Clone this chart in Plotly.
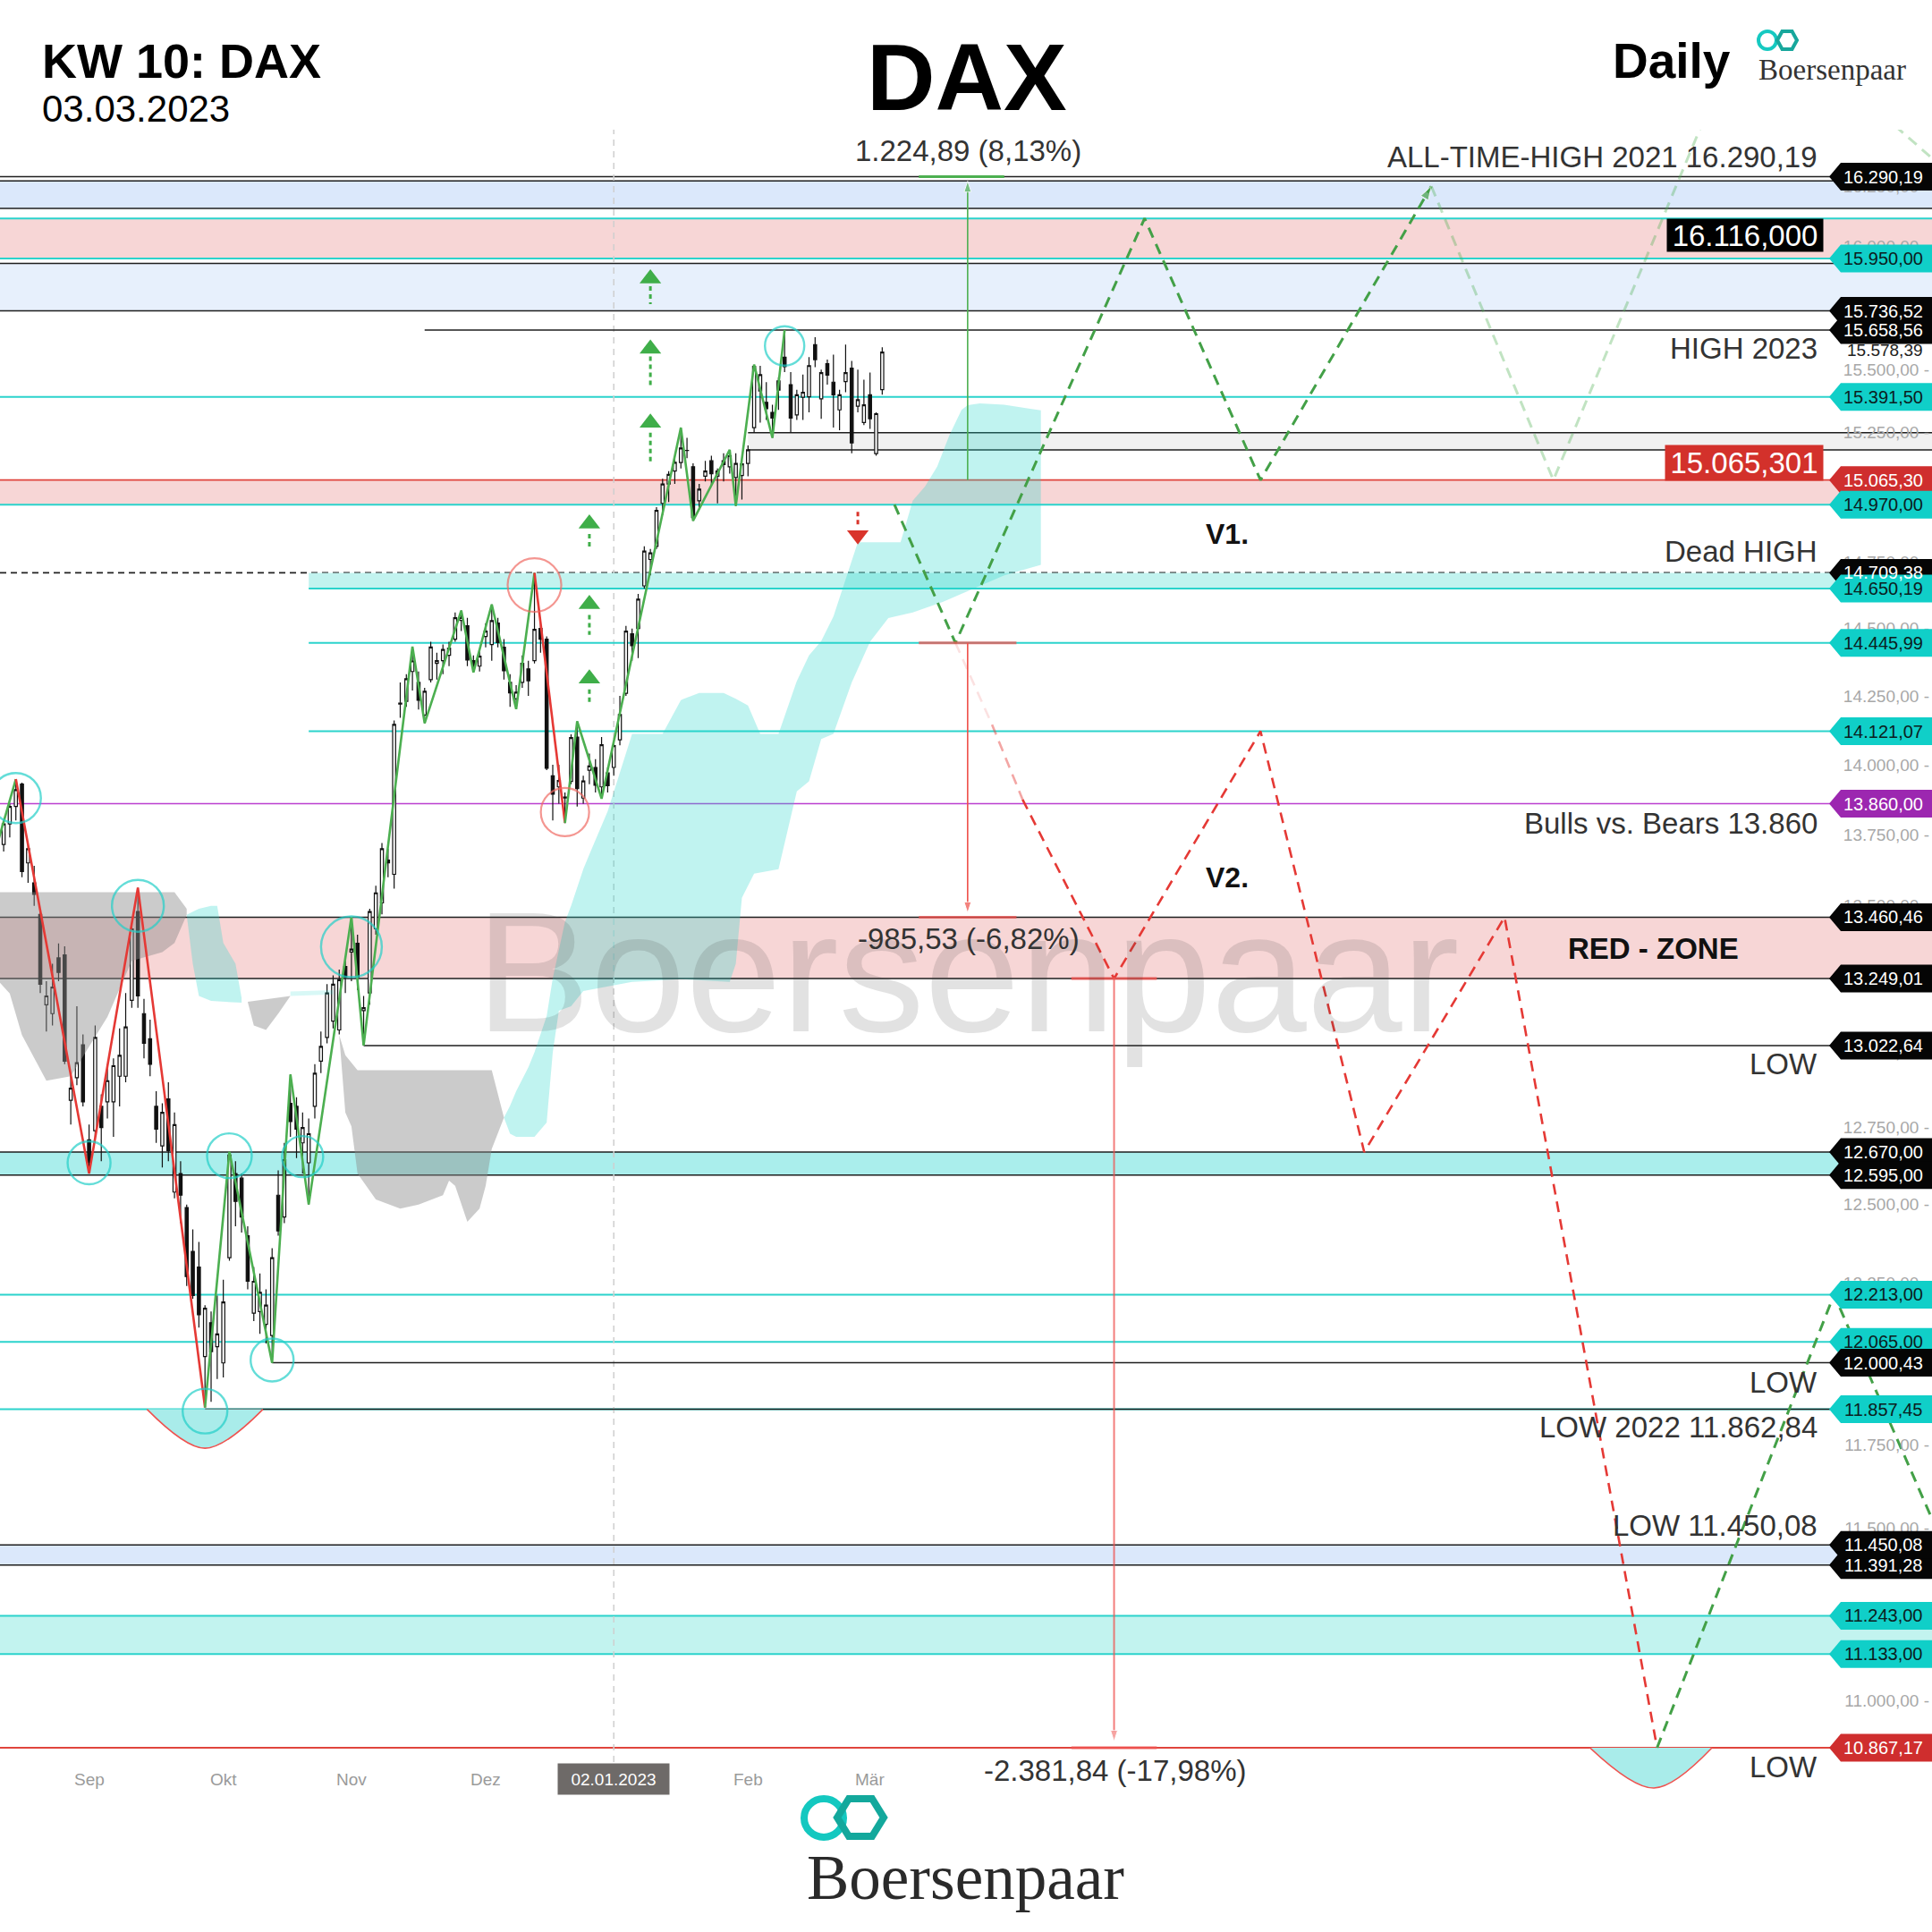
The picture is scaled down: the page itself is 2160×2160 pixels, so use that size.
import math
import plotly.graph_objects as go

# ---------------------------------------------------------------- candles
dates = """
2022-08-11 2022-08-12 2022-08-15 2022-08-16 2022-08-17 2022-08-18 2022-08-19 2022-08-22 2022-08-23 2022-08-24 2022-08-25 2022-08-26 2022-08-29 2022-08-30 2022-08-31
2022-09-01 2022-09-02 2022-09-05 2022-09-06 2022-09-07 2022-09-08 2022-09-09 2022-09-12 2022-09-13 2022-09-14 2022-09-15 2022-09-16 2022-09-19 2022-09-20 2022-09-21 2022-09-22 2022-09-23 2022-09-26 2022-09-27 2022-09-28 2022-09-29 2022-09-30
2022-10-03 2022-10-04 2022-10-05 2022-10-06 2022-10-07 2022-10-10 2022-10-11 2022-10-12 2022-10-13 2022-10-14 2022-10-17 2022-10-18 2022-10-19 2022-10-20 2022-10-21 2022-10-24 2022-10-25 2022-10-26 2022-10-27 2022-10-28 2022-10-31
2022-11-01 2022-11-02 2022-11-03 2022-11-04 2022-11-07 2022-11-08 2022-11-09 2022-11-10 2022-11-11 2022-11-14 2022-11-15 2022-11-16 2022-11-17 2022-11-18 2022-11-21 2022-11-22 2022-11-23 2022-11-24 2022-11-25 2022-11-28 2022-11-29 2022-11-30
2022-12-01 2022-12-02 2022-12-05 2022-12-06 2022-12-07 2022-12-08 2022-12-09 2022-12-12 2022-12-13 2022-12-14 2022-12-15 2022-12-16 2022-12-19 2022-12-20 2022-12-21 2022-12-22 2022-12-23 2022-12-27 2022-12-28 2022-12-29 2022-12-30
2023-01-02 2023-01-03 2023-01-04 2023-01-05 2023-01-06 2023-01-09 2023-01-10 2023-01-11 2023-01-12 2023-01-13 2023-01-16 2023-01-17 2023-01-18 2023-01-19 2023-01-20 2023-01-23 2023-01-24 2023-01-25 2023-01-26 2023-01-27 2023-01-30 2023-01-31
2023-02-01 2023-02-02 2023-02-03 2023-02-06 2023-02-07 2023-02-08 2023-02-09 2023-02-10 2023-02-13 2023-02-14 2023-02-15 2023-02-16 2023-02-17 2023-02-20 2023-02-21 2023-02-22 2023-02-23 2023-02-24 2023-02-27 2023-02-28
2023-03-01 2023-03-02 2023-03-03
""".split()

opens = [
    13700, 13715, 13788, 13850, 13930, 13650, 13580, 13470, 13160, 13130, 13320, 13330, 12840, 12915, 13025,
    12710, 12740, 12820, 12835, 12835, 12920, 12920, 13175, 13480, 13130, 13045, 12820, 12690, 12845, 12540, 12600, 12490, 12350, 12300, 12020, 12125, 12050,
    12000, 12330, 12600, 12585, 12400, 12155, 12160, 12120, 12085, 12530, 12460, 12830, 12820, 12700, 12635, 12820, 12970, 13050, 13105, 13075, 13290,
    13340, 13370, 13140, 13200, 13420, 13510, 13660, 13610, 14220, 14230, 14340, 14300, 14180, 14310, 14370, 14380, 14400, 14460, 14530, 14510, 14380, 14360,
    14470, 14440, 14520, 14430, 14300, 14240, 14300, 14350, 14380, 14500, 14460, 13960, 13920, 13880, 13940, 14100, 13880, 13980, 13990, 13920, 13970,
    13990, 14090, 14260, 14480, 14500, 14660, 14760, 14810, 14975, 15050, 15100, 15133, 15180, 15117, 14985, 15080, 15140, 15080, 15140, 15117, 15075, 15083,
    15130, 15270, 15415, 15370, 15330, 15455, 15550, 15440, 15320, 15390, 15392, 15600, 15384, 15524, 15450, 15340, 15452, 15506, 15355, 15290,
    15400, 15168, 15420,
]
highs = [
    13760, 13800, 13860, 13948, 13935, 13720, 13640, 13480, 13240, 13300, 13370, 13360, 12930, 13155, 13060,
    12760, 13090, 12860, 12960, 12980, 13080, 13200, 13430, 13563, 13180, 13110, 12870, 12830, 12900, 12800, 12640, 12500, 12420, 12380, 12180, 12160, 12210,
    12260, 12671, 12640, 12600, 12430, 12300, 12280, 12230, 12360, 12610, 12700, 12926, 12850, 12800, 12780, 12960, 13070, 13230, 13260, 13280, 13320,
    13461, 13400, 13190, 13490, 13570, 13720, 13700, 14160, 14300, 14330, 14432, 14340, 14280, 14450, 14410, 14440, 14450, 14560, 14567, 14540, 14400, 14420,
    14520, 14590, 14540, 14460, 14330, 14290, 14400, 14380, 14709, 14540, 14470, 14000, 14000, 13900, 14110, 14157, 13960, 14040, 14020, 14100, 13990,
    14080, 14250, 14510, 14500, 14630, 14810, 14800, 14960, 15070, 15100, 15150, 15270, 15230, 15130, 15050, 15140, 15160, 15110, 15170, 15183, 15170, 15140,
    15200, 15520, 15515, 15450, 15360, 15470, 15659, 15490, 15420, 15480, 15550, 15630, 15500, 15540, 15560, 15420, 15600, 15535, 15500, 15460,
    15488, 15330, 15590,
]
lows = [
    13650, 13690, 13740, 13800, 13600, 13580, 13500, 13200, 13070, 13090, 13240, 12960, 12760, 12890, 12820,
    12600, 12700, 12640, 12780, 12720, 12820, 12900, 13150, 13150, 12980, 12920, 12700, 12620, 12640, 12520, 12440, 12240, 12200, 12110, 11863, 11880, 11950,
    11955, 12320, 12430, 12410, 12230, 12130, 12090, 12060, 12000, 12400, 12440, 12720, 12650, 12600, 12500, 12780, 12930, 13030, 13080, 13060, 13200,
    13240, 13210, 13023, 13160, 13400, 13470, 13600, 13560, 14170, 14210, 14270, 14200, 14150, 14300, 14310, 14330, 14360, 14450, 14490, 14360, 14337, 14340,
    14430, 14380, 14430, 14310, 14210, 14202, 14280, 14250, 14370, 14410, 13980, 13800, 13860, 13791, 13930, 13850, 13860, 13930, 13900, 13878, 13900,
    13960, 14070, 14250, 14380, 14390, 14650, 14700, 14800, 14930, 14980, 15050, 15110, 15150, 14908, 14950, 15060, 15040, 14975, 15060, 15090, 14965, 14990,
    15080, 15250, 15290, 15300, 15230, 15340, 15490, 15250, 15300, 15300, 15330, 15510, 15305, 15440, 15270, 15260, 15410, 15170, 15330, 15280,
    15265, 15160, 15400,
]
closes = [
    13694, 13788, 13850, 13910, 13620, 13700, 13540, 13230, 13190, 13220, 13270, 12970, 12880, 12965, 12835,
    12635, 13050, 12750, 12905, 12955, 12990, 13085, 13420, 13190, 13030, 12960, 12745, 12800, 12675, 12760, 12530, 12270, 12210, 12150, 12170, 12035, 12090,
    12190, 12660, 12510, 12460, 12255, 12255, 12220, 12180, 12330, 12415, 12645, 12770, 12745, 12750, 12730, 12930, 13020, 13200, 13230, 13245, 13255,
    13350, 13255, 13150, 13480, 13545, 13700, 13650, 14146, 14224, 14313, 14379, 14234, 14267, 14431, 14380, 14422, 14427, 14540, 14541, 14383, 14355, 14397,
    14490, 14529, 14447, 14343, 14261, 14264, 14370, 14306, 14497, 14460, 13987, 13894, 13943, 13884, 14098, 13914, 13941, 13995, 13926, 14072, 13924,
    14069, 14182, 14490, 14436, 14610, 14792, 14785, 14948, 15050, 15087, 15134, 15190, 15181, 14920, 15030, 15100, 15090, 15100, 15125, 15160, 15130, 15128,
    15183, 15513, 15480, 15345, 15308, 15418, 15512, 15308, 15400, 15410, 15516, 15540, 15488, 15478, 15400, 15400, 15488, 15210, 15380, 15360,
    15305, 15325, 15570,
]
assert len(dates) == len(opens) == len(highs) == len(lows) == len(closes)

# ---------------------------------------------------------------- zigzag swings
zig_dates = ["2022-08-11", "2022-08-16", "2022-09-01", "2022-09-13", "2022-09-28", "2022-10-04", "2022-10-13",
             "2022-10-18", "2022-10-21", "2022-11-01", "2022-11-03", "2022-11-15", "2022-11-17", "2022-11-25",
             "2022-11-29", "2022-12-02", "2022-12-08", "2022-12-13", "2022-12-20", "2022-12-22", "2022-12-29",
             "2023-01-17", "2023-01-19", "2023-01-27", "2023-01-30", "2023-02-02", "2023-02-07", "2023-02-09"]
zig_prices = [13720, 13948, 12600, 13563, 11863, 12671, 12000, 12926, 12500, 13461, 13023, 14432, 14150, 14567,
              14337, 14590, 14202, 14709, 13791, 14157, 13878, 15270, 14908, 15183, 14965, 15520, 15230, 15659]
zig_runs = [(0, 1, "up"), (1, 4, "down"), (4, 17, "up"), (17, 18, "down"), (18, 27, "up")]

# pivot circles
cyan_circle_dates = ["2022-08-16", "2022-09-01", "2022-09-13", "2022-09-28", "2022-10-04", "2022-10-13",
                     "2022-10-20", "2022-11-01", "2023-02-09"]
cyan_circle_prices = [13880, 12635, 13500, 11852, 12658, 12009, 12655, 13358, 15595]
cyan_circle_sizes = [56, 48, 58, 50, 50, 48, 46, 68, 44]
red_circle_dates = ["2022-12-13", "2022-12-20"]
red_circle_prices = [14663, 13830]
red_circle_sizes = [60, 54]

# ---------------------------------------------------------------- ichimoku cloud
gray1_top_d = ["2022-08-11", "2022-09-21", "2022-09-23"]
gray1_top_v = [13547, 13547, 13490]
gray1_bot_d = ["2022-08-11", "2022-08-15", "2022-08-17", "2022-08-23", "2022-08-29", "2022-09-06",
               "2022-09-12", "2022-09-19", "2022-09-21", "2022-09-23"]
gray1_bot_v = [13244, 13198, 13058, 12905, 12920, 13119, 13310, 13340, 13371, 13469]

cyan1_top_d = ["2022-09-23", "2022-09-26", "2022-09-27", "2022-09-29", "2022-09-30", "2022-10-03",
               "2022-10-05", "2022-10-06"]
cyan1_top_v = [13469, 13480, 13490, 13500, 13500, 13371, 13300, 13183]
cyan1_bot_d = ["2022-09-23", "2022-09-26", "2022-09-27", "2022-09-29", "2022-10-06"]
cyan1_bot_v = [13469, 13300, 13190, 13173, 13167]

gray2_top_d = ["2022-10-07", "2022-10-18"]
gray2_top_v = [13170, 13190]
gray2_bot_d = ["2022-10-07", "2022-10-10", "2022-10-12", "2022-10-14", "2022-10-18"]
gray2_bot_v = [13170, 13090, 13075, 13130, 13190]

cyan2_top_d = ["2022-10-18", "2022-10-27"]
cyan2_top_v = [13205, 13210]
cyan2_bot_d = ["2022-10-18", "2022-10-27"]
cyan2_bot_v = [13190, 13195]

gray3_top_d = ["2022-10-28", "2022-10-31", "2022-11-02", "2022-12-02", "2022-12-06"]
gray3_top_v = [13058, 12990, 12940, 12940, 12783]
gray3_bot_d = ["2022-10-28", "2022-10-31", "2022-11-01", "2022-11-02", "2022-11-07", "2022-11-11",
               "2022-11-16", "2022-11-22", "2022-11-23", "2022-11-24", "2022-11-28", "2022-11-30",
               "2022-12-01", "2022-12-02", "2022-12-06"]
gray3_bot_v = [13058, 12800, 12754, 12600, 12516, 12487, 12500, 12530, 12577, 12560, 12444, 12487,
               12560, 12680, 12783]

cyan3_top_d = ["2022-12-06", "2022-12-07", "2022-12-08", "2022-12-12", "2022-12-13", "2022-12-15",
               "2022-12-16", "2022-12-20", "2022-12-21", "2022-12-23", "2022-12-27", "2022-12-30",
               "2023-01-05", "2023-01-12", "2023-01-17", "2023-01-20", "2023-01-26", "2023-01-30",
               "2023-02-01", "2023-02-03", "2023-02-08", "2023-02-13", "2023-02-15", "2023-02-17",
               "2023-02-21", "2023-02-23", "2023-02-27", "2023-03-01", "2023-03-06", "2023-03-08",
               "2023-03-10", "2023-03-14", "2023-03-16", "2023-03-20", "2023-03-22", "2023-03-23",
               "2023-03-27", "2023-03-31", "2023-04-06", "2023-04-10"]
cyan3_top_v = [12783, 12822, 12870, 12950, 13000, 13122, 13250, 13444, 13500, 13628, 13680, 13833,
               14111, 14111, 14235, 14261, 14261, 14240, 14215, 14111, 14111, 14305, 14400, 14453,
               14545, 14683, 14826, 14826, 14826, 14826, 14985, 15040, 15117, 15240, 15340, 15359,
               15366, 15360, 15345, 15338]
cyan3_bot_d = ["2022-12-06", "2022-12-07", "2022-12-08", "2022-12-13", "2022-12-15", "2022-12-16",
               "2022-12-19", "2022-12-21", "2022-12-23", "2022-12-30", "2023-01-05", "2023-01-17",
               "2023-01-27", "2023-01-30", "2023-01-31", "2023-02-02", "2023-02-08", "2023-02-13",
               "2023-02-15", "2023-02-17", "2023-02-21", "2023-02-24", "2023-03-01", "2023-03-06",
               "2023-03-10", "2023-03-17", "2023-03-27", "2023-03-31", "2023-04-10"]
cyan3_bot_v = [12783, 12730, 12720, 12720, 12767, 13000, 13140, 13155, 13207, 13223, 13238, 13247,
               13238, 13300, 13528, 13612, 13628, 13904, 13940, 14093, 14111, 14300, 14450, 14539,
               14560, 14600, 14660, 14700, 14740]

# ---------------------------------------------------------------- levels
line_black = [16290.19, 16272, 16157, 15930, 15736.52, 13460.46, 13249.01, 12670, 12595, 11450.08, 11391.28]
line_black_from = {15658.56: "2022-11-17", 15250: "2023-02-01", 15183: "2023-02-01",
                   13022.64: "2022-11-03", 12000.43: "2022-10-13", 11857.45: "2022-09-28"}
line_cyan = [16116, 15950, 15391.50, 14970, 12213, 12065, 11857.45, 11243, 11133]
line_cyan_from = {14650.19: "2022-10-21", 14445.99: "2022-10-21", 14121.07: "2022-10-21"}
line_red = [15065.30, 10867.17]
line_purple = [13860]
line_dashed = [14709.38]

bands = [  # (top, bottom, kind, start)
    (16272, 16157, "blue", None),
    (16116, 15950, "pink", None),
    (15930, 15736.52, "lightblue", None),
    (15250, 15183, "gray", "2023-02-01"),
    (15065.30, 14970, "pink", None),
    (14709.38, 14650.19, "lightcyan", "2022-10-21"),
    (13460.46, 13249.01, "pink", None),
    (12670, 12595, "cyan", None),
    (11450.08, 11391.28, "blue", None),
    (11243, 11133, "lightcyan", None),
]

tag_values = [16290.19, 15950.00, 15736.52, 15658.56, 15391.50, 15065.30, 14970.00, 14709.38, 14650.19,
              14445.99, 14121.07, 13860.00, 13460.46, 13249.01, 13022.64, 12670.00, 12595.00, 12213.00,
              12065.00, 12000.43, 11857.45, 11391.28, 11450.08, 11243.00, 11133.00, 10867.17]
tag_labels = ["16.290,19", "15.950,00", "15.736,52", "15.658,56", "15.391,50", "15.065,30", "14.970,00",
              "14.709,38", "14.650,19", "14.445,99", "14.121,07", "13.860,00", "13.460,46", "13.249,01",
              "13.022,64", "12.670,00", "12.595,00", "12.213,00", "12.065,00", "12.000,43", "11.857,45",
              "11.391,28", "11.450,08", "11.243,00", "11.133,00", "10.867,17"]
tag_kinds = ["k", "c", "k", "k", "c", "r", "c", "k", "c", "c", "c", "p", "k", "k", "k", "k", "k", "c",
             "c", "k", "c", "k", "k", "c", "c", "r"]

tick_values = [10750, 11000, 11250, 11500, 11750, 12000, 12250, 12500, 12750, 13000, 13250, 13500,
               13750, 14000, 14250, 14500, 14750, 15000, 15250, 15500, 15750, 16000, 16250]
tick_labels = ["10.750,00", "11.000,00", "11.250,00", "11.500,00", "11.750,00", "12.000,00", "12.250,00",
               "12.500,00", "12.750,00", "13.000,00", "13.250,00", "13.500,00", "13.750,00", "14.000,00",
               "14.250,00", "14.500,00", "14.750,00", "15.000,00", "15.250,00", "15.500,00", "15.750,00",
               "16.000,00", "16.250,00"]

month_dates = ["2022-09-01", "2022-10-03", "2022-11-01", "2022-12-01", "2023-01-02", "2023-02-01", "2023-03-01"]
month_labels = ["Sep", "Okt", "Nov", "Dez", "02.01.2023", "Feb", "Mär"]

# ---------------------------------------------------------------- projections
v1_dates = ["2023-03-07", "2023-03-21", "2023-05-03", "2023-05-30", "2023-07-07"]
v1_prices = [14970, 14446, 16116, 15065.3, 16250]
v1_fade_dates = ["2023-07-07", "2023-08-04", "2023-09-07"]
v1_fade_prices = [16250, 15065.3, 16490]
top_frag_dates = ["2023-10-23", "2023-11-08"]
top_frag_prices = [16505, 16190]
v2_fade_dates = ["2023-03-21", "2023-03-29", "2023-04-05"]
v2_fade_prices = [14446, 14145, 13875]
v2_dates = ["2023-04-05", "2023-04-26", "2023-05-30", "2023-06-22", "2023-07-25", "2023-08-29"]
v2_prices = [13875, 13249.01, 14121.07, 12670, 13460.46, 10867.17]
g2_dates = ["2023-08-29", "2023-10-09", "2023-10-31"]
g2_prices = [10867.17, 12213, 11530]

# measurement tools
meas_up = dict(date="2023-03-23", y0=15065.30, y1=16272, seg=("2023-03-13", "2023-03-31"), level=16290.19)
meas_dn1 = dict(date="2023-03-23", y0=14445.99, y1=13475, seg=("2023-03-13", "2023-04-04"), levels=(14445.99, 13460.46))
meas_dn2 = dict(date="2023-04-26", y0=13249.01, y1=10885, seg=("2023-04-17", "2023-05-05"), levels=(13249.01, 10867.17))

# signal arrows
up_arrow_cols = {"2023-01-10": [(15868, 15837, 15764), (15583, 15553, 15431), (15289, 15250, 15124)],
                 "2022-12-27": [(14897, 14857, 14802), (14591, 14551, 14476), (14314, 14274, 14215)]}
down_arrow = ("2023-02-27", 14853, 14942, 14888)

# bowls
bowl_left = (["2022-09-14 12:00", "2022-09-28", "2022-10-11 12:00"], [11857.45, 11739, 11857.45])
bowl_right = (["2023-08-14", "2023-08-28 12:00", "2023-09-11"], [10867.17, 10755, 10867.17])

# ---------------------------------------------------------------- styling
FONT = "Liberation Sans, Arial, sans-serif"
SERIF = "Liberation Serif, Times New Roman, serif"
GREEN = "#43a047"
RED = "#e53935"
CYAN = "#2bd3cc"
TOP_PX, BOT_PX = 145, 2010


def yp(px):
    return (BOT_PX - px) / (BOT_PX - TOP_PX)


def xp(px):
    return px / 2160.0


fig = go.Figure()


def add_cloud(td, tv, bd, bv, color):
    fig.add_trace(go.Scatter(x=td + bd[::-1], y=tv + bv[::-1], mode="lines", fill="toself",
                             fillcolor=color, line=dict(width=0), hoverinfo="skip"))


CLOUD_CYAN = "rgba(38,214,205,0.29)"
CLOUD_GRAY = "rgba(140,140,140,0.45)"
add_cloud(gray1_top_d, gray1_top_v, gray1_bot_d, gray1_bot_v, CLOUD_GRAY)
add_cloud(cyan1_top_d, cyan1_top_v, cyan1_bot_d, cyan1_bot_v, CLOUD_CYAN)
add_cloud(gray2_top_d, gray2_top_v, gray2_bot_d, gray2_bot_v, CLOUD_GRAY)
add_cloud(cyan2_top_d, cyan2_top_v, cyan2_bot_d, cyan2_bot_v, "rgba(38,214,205,0.18)")
add_cloud(gray3_top_d, gray3_top_v, gray3_bot_d, gray3_bot_v, CLOUD_GRAY)
add_cloud(cyan3_top_d, cyan3_top_v, cyan3_bot_d, cyan3_bot_v, CLOUD_CYAN)

# bowls
for bx, by in (bowl_left, bowl_right):
    fig.add_trace(go.Scatter(x=bx, y=by, mode="lines", line=dict(color="#ef5350", width=1.6, shape="spline"),
                             fill="toself", fillcolor="#a9ecea", hoverinfo="skip"))

# candles
fig.add_trace(go.Candlestick(
    x=dates, open=opens, high=highs, low=lows, close=closes,
    increasing=dict(line=dict(color="#111111", width=1.2), fillcolor="white"),
    decreasing=dict(line=dict(color="#111111", width=1.2), fillcolor="#111111"),
    whiskerwidth=0, hoverinfo="skip"))

# zigzag
for a, b, kind in zig_runs:
    fig.add_trace(go.Scatter(x=zig_dates[a:b + 1], y=zig_prices[a:b + 1], mode="lines",
                             line=dict(color="#4caf50" if kind == "up" else "#e53935", width=2.6),
                             hoverinfo="skip"))

# circles
fig.add_trace(go.Scatter(x=cyan_circle_dates, y=cyan_circle_prices, mode="markers",
                         marker=dict(symbol="circle-open", size=cyan_circle_sizes, color="#22cec8",
                                     line=dict(width=2.4)), hoverinfo="skip"))
fig.add_trace(go.Scatter(x=red_circle_dates, y=red_circle_prices, mode="markers",
                         marker=dict(symbol="circle-open", size=red_circle_sizes, color="#ef6a62",
                                     line=dict(width=2.2)), hoverinfo="skip"))

# signal arrows
for d, items in up_arrow_cols.items():
    sx, sy, hx, hy = [], [], [], []
    for head, s_top, s_bot in items:
        sx += [d, d, None]
        sy += [s_top, s_bot, None]
        hx.append(d)
        hy.append(head)
    fig.add_trace(go.Scatter(x=sx, y=sy, mode="lines", line=dict(color="#3fae49", width=3, dash="5px,4px"),
                             hoverinfo="skip"))
    fig.add_trace(go.Scatter(x=hx, y=hy, mode="markers",
                             marker=dict(symbol="triangle-up", size=21, color="#3fae49"), hoverinfo="skip"))
d, head, s_top, s_bot = down_arrow
fig.add_trace(go.Scatter(x=[d, d], y=[s_top, s_bot], mode="lines", line=dict(color="#d9342b", width=3, dash="5px,4px"),
                         hoverinfo="skip"))
fig.add_trace(go.Scatter(x=[d], y=[head], mode="markers",
                         marker=dict(symbol="triangle-down", size=21, color="#d9342b"), hoverinfo="skip"))


def dashed(xs, ys, color, width=3, arrow=False):
    mk = None
    mode = "lines"
    if arrow:
        mode = "lines+markers"
        mk = dict(symbol="arrow", angleref="previous", size=[0] * (len(xs) - 1) + [16], color=color)
    fig.add_trace(go.Scatter(x=xs, y=ys, mode=mode, marker=mk,
                             line=dict(color=color, width=width, dash="12px,8px"), hoverinfo="skip"))


dashed(v1_dates, v1_prices, GREEN, arrow=True)
dashed(v1_fade_dates, v1_fade_prices, "rgba(76,175,80,0.35)")
dashed(top_frag_dates, top_frag_prices, "rgba(76,175,80,0.35)")
dashed(v2_fade_dates[:2], v2_fade_prices[:2], "rgba(229,57,53,0.15)", width=2.6)
dashed(v2_fade_dates[1:], v2_fade_prices[1:], "rgba(229,57,53,0.45)", width=2.6)
dashed(v2_dates, v2_prices, RED, width=2.6)
dashed(g2_dates, g2_prices, GREEN)


# measurement tools
def meas(date, y0, y1, color, width=1.6):
    fig.add_trace(go.Scatter(x=[date, date], y=[y0, y1], mode="lines+markers",
                             line=dict(color=color, width=width),
                             marker=dict(symbol="arrow", angleref="previous", size=[0, 13], color=color),
                             hoverinfo="skip"))


meas(meas_up["date"], meas_up["y0"], meas_up["y1"], "#4caf50")
fig.add_trace(go.Scatter(x=list(meas_up["seg"]), y=[meas_up["level"]] * 2, mode="lines",
                         line=dict(color="#4caf50", width=3), hoverinfo="skip"))
meas(meas_dn1["date"], meas_dn1["y0"], meas_dn1["y1"], "#ef4f48")
for lv in meas_dn1["levels"]:
    fig.add_trace(go.Scatter(x=list(meas_dn1["seg"]), y=[lv, lv], mode="lines",
                             line=dict(color="rgba(239,83,80,0.75)", width=3), hoverinfo="skip"))
meas(meas_dn2["date"], meas_dn2["y0"], meas_dn2["y1"], "rgba(239,83,80,0.75)", width=2)
for lv in meas_dn2["levels"]:
    fig.add_trace(go.Scatter(x=list(meas_dn2["seg"]), y=[lv, lv], mode="lines",
                             line=dict(color="rgba(239,83,80,0.85)", width=3), hoverinfo="skip"))

# ---------------------------------------------------------------- shapes
shapes = []
band_colors = {"blue": "#dbe8fb", "lightblue": "#e7f0fc", "pink": "#f7d6d6", "gray": "#f1f1f1",
               "lightcyan": "#c2f3ef", "cyan": "#aaeeec"}
for top, bot, kind, start in bands:
    if start is None:
        shapes.append(dict(type="rect", xref="paper", x0=0, x1=1, yref="y", y0=bot, y1=top,
                           fillcolor=band_colors[kind], line=dict(width=0), layer="below"))
    else:
        shapes.append(dict(type="rect", xref="x", x0=start, x1="2024-06-01", yref="y", y0=bot, y1=top,
                           fillcolor=band_colors[kind], line=dict(width=0), layer="below"))


def hline(v, color, width, start=None, dash=None):
    ln = dict(color=color, width=width)
    if dash:
        ln["dash"] = dash
    if start is None:
        shapes.append(dict(type="line", xref="paper", x0=0, x1=1, yref="y", y0=v, y1=v, line=ln, layer="below"))
    else:
        shapes.append(dict(type="line", xref="x", x0=start, x1="2024-06-01", yref="y", y0=v, y1=v, line=ln,
                           layer="below"))


for v in line_black:
    hline(v, "#1e1e1e", 1.5)
for v, s in line_black_from.items():
    hline(v, "#1e1e1e", 1.5, s)
for v in line_cyan:
    hline(v, CYAN, 2)
for v, s in line_cyan_from.items():
    hline(v, CYAN, 2, s)
for v in line_red:
    hline(v, "#e0453d", 1.8)
for v in line_purple:
    hline(v, "#bb3fd0", 1.6)
for v in line_dashed:
    hline(v, "#222222", 1.6, dash="7px,5px")

# Jan 2 vertical dashed
shapes.append(dict(type="line", xref="x", x0="2023-01-02", x1="2023-01-02", yref="paper", y0=yp(1970), y1=1,
                   line=dict(color="#cfcfcf", width=1.5, dash="7px,6px"), layer="below"))

# price tags
tag_style = {"k": ("#050505", "white"), "c": ("#10cfc8", "#0b2020"), "r": ("#cf2e2e", "white"),
             "p": ("#9c27b0", "white")}
tag_path = "M-115,0 L-102,15.5 L0,15.5 L0,-15.5 L-102,-15.5 Z"
annotations = []
for v, lab, k in zip(tag_values, tag_labels, tag_kinds):
    bg, fg = tag_style[k]
    shapes.append(dict(type="path", xref="paper", yref="y", xsizemode="pixel", ysizemode="pixel",
                       xanchor=1, yanchor=v, path=tag_path, fillcolor=bg, line=dict(width=0), layer="above"))
    annotations.append(dict(x=1, xref="paper", xanchor="right", xshift=-8, y=math.log10(v), yref="y",
                            yanchor="middle", text=lab, showarrow=False,
                            font=dict(family=FONT, size=20, color=fg)))

# logos
def hexagon(cx, cy, hw, hh):
    pts = [(cx - hw, cy), (cx - hw / 2, cy - hh), (cx + hw / 2, cy - hh), (cx + hw, cy),
           (cx + hw / 2, cy + hh), (cx - hw / 2, cy + hh)]
    return "M" + " L".join(f"{xp(x):.5f},{yp(y):.5f}" for x, y in pts) + " Z"


shapes.append(dict(type="circle", xref="paper", yref="paper", x0=xp(1966), x1=xp(1986), y0=yp(55), y1=yp(35),
                   line=dict(color="#16c9c1", width=4)))
shapes.append(dict(type="path", xref="paper", yref="paper", path=hexagon(1998, 45, 11, 10),
                   line=dict(color="#17a79c", width=4)))
shapes.append(dict(type="circle", xref="paper", yref="paper", x0=xp(899), x1=xp(943), y0=yp(2054), y1=yp(2011),
                   line=dict(color="#14c8c0", width=8)))
shapes.append(dict(type="path", xref="paper", yref="paper", path=hexagon(962, 2032, 26, 21),
                   line=dict(color="#13a89c", width=8)))

# ---------------------------------------------------------------- texts
def ptext(x, y, text, size, color="#333333", anchor="right", bold=False, family=FONT, **kw):
    t = f"<b>{text}</b>" if bold else text
    d = dict(x=xp(x), y=yp(y), xref="paper", yref="paper", xanchor=anchor, yanchor="middle", text=t,
             showarrow=False, font=dict(family=family, size=size, color=color))
    d.update(kw)
    annotations.append(d)


ptext(45, 68, "KW 10: DAX", 54, "#000000", "left", True)
ptext(45, 121, "03.03.2023", 42, "#000000", "left")
ptext(1081, 86, "DAX", 106, "#000000", "center", True)
ptext(1937, 68, "Daily", 55, "#000000", "right", True)
ptext(1964, 78, "Boersenpaar", 33, "#333333", "left", family=SERIF)
ptext(1079, 2099, "Boersenpaar", 71, "#2a2a2a", "center", family=SERIF)
ptext(1081, 1086, "Boersenpaar", 192, "rgba(60,60,60,0.15)", "center")

ptext(2034, 175, "ALL-TIME-HIGH 2021 16.290,19", 33)
ptext(2034, 390, "HIGH 2023", 33)
ptext(2034, 616, "Dead HIGH", 33)
ptext(2034, 920, "Bulls vs. Bears 13.860", 33)
ptext(2034, 1189, "LOW", 33)
ptext(2034, 1545, "LOW", 33)
ptext(2034, 1595, "LOW 2022 11.862,84", 33)
ptext(2034, 1705, "LOW 11.450,08", 33)
ptext(2034, 1975, "LOW", 33)
ptext(1848, 1060, "RED - ZONE", 33, "#111111", "center", True)
ptext(1372, 597, "V1.", 32, "#111111", "center", True)
ptext(1372, 981, "V2.", 32, "#111111", "center", True)
ptext(1082, 168, "1.224,89 (8,13%)", 33, "#333333", "center")
ptext(1083, 1049, "-985,53 (-6,82%)", 33, "#333333", "center")
ptext(1247, 1979, "-2.381,84 (-17,98%)", 33, "#333333", "center")
ptext(2039, 263, "16.116,000", 33, "white", "right", bgcolor="#000000", width=172, height=34)
ptext(2039, 517, "15.065,301", 33, "white", "right", bgcolor="#d3312b", width=174, height=37)

annotations.append(dict(x=1, xref="paper", xanchor="right", xshift=-8, y=math.log10(15578.39), yref="y",
                        yanchor="middle", text="15.578,39", showarrow=False,
                        font=dict(family=FONT, size=19, color="#222222")))

for d, lab in zip(month_dates, month_labels):
    a = dict(x=d, xref="x", y=yp(1989), yref="paper", xanchor="center", yanchor="middle", text=lab,
             showarrow=False, font=dict(family=FONT, size=19, color="#9a9a9a"))
    if lab.startswith("02."):
        a.update(bgcolor="#6e6a68", width=122, height=32, font=dict(family=FONT, size=19, color="white"))
    annotations.append(a)

# ---------------------------------------------------------------- layout
fig.update_layout(
    width=2160, height=2160, autosize=False,
    margin=dict(l=0, r=0, t=TOP_PX, b=2160 - BOT_PX, pad=0),
    paper_bgcolor="white", plot_bgcolor="white",
    showlegend=False, hovermode=False,
    shapes=shapes, annotations=annotations,
    xaxis=dict(type="date", range=["2022-08-11 09:36", "2023-10-31 01:26"],
               rangebreaks=[dict(bounds=["sat", "mon"]), dict(values=["2022-12-26"])],
               rangeslider=dict(visible=False), showgrid=False, zeroline=False,
               showticklabels=False, ticks="", showline=False, fixedrange=True),
    yaxis=dict(type="log", range=[4.030513, 4.217181], side="right", ticklabelposition="inside",
               tickvals=tick_values, ticktext=[t + " -" for t in tick_labels], ticks="",
               tickfont=dict(family=FONT, size=19, color="#a8a8a8"),
               showgrid=False, zeroline=False, showline=False, fixedrange=True),
)

fig.write_html("out.html", config={"displayModeBar": False},
               post_script="document.body.style.margin='0';")
